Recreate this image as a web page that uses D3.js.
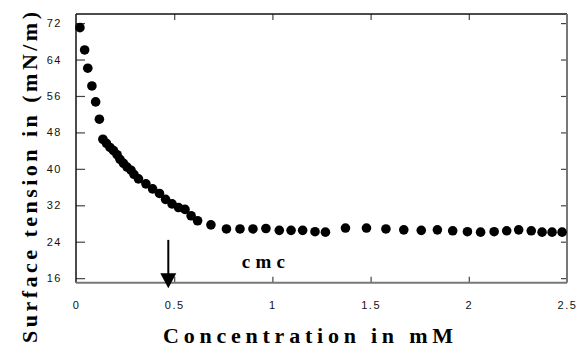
<!DOCTYPE html>
<html>
<head>
<meta charset="utf-8">
<script src="https://cdn.jsdelivr.net/npm/d3@7"></script>
<style>
  html, body { margin: 0; padding: 0; background: #fff; }
  svg { display: block; }
</style>
</head>
<body>
<svg id="chart" width="577" height="347"></svg>
<script>
// ---- data ----
const concentration = [0.020, 0.044, 0.060, 0.081, 0.100, 0.119, 0.137, 0.155, 0.173, 0.191,
  0.209, 0.224, 0.242, 0.260, 0.280, 0.295, 0.318, 0.356, 0.390, 0.425,
  0.456, 0.489, 0.522, 0.555, 0.586, 0.619, 0.687, 0.766, 0.835, 0.901,
  0.967, 1.035, 1.095, 1.154, 1.217, 1.270, 1.372, 1.479, 1.578, 1.669,
  1.758, 1.840, 1.918, 1.993, 2.060, 2.129, 2.193, 2.254, 2.318, 2.373,
  2.424, 2.475];
const tension = [71.0, 66.1, 62.1, 58.2, 54.7, 50.9, 46.5, 45.6, 44.7, 44.0,
  43.1, 42.1, 41.2, 40.4, 39.7, 38.8, 37.8, 36.7, 35.6, 34.6,
  33.3, 32.3, 31.5, 31.1, 29.7, 28.6, 27.7, 26.8, 26.8, 26.8,
  26.9, 26.5, 26.5, 26.5, 26.2, 26.1, 27.0, 27.0, 26.8, 26.6,
  26.5, 26.6, 26.4, 26.2, 26.1, 26.2, 26.4, 26.6, 26.4, 26.1,
  26.1, 26.1];
const xTickValues = [0, 0.5, 1, 1.5, 2, 2.5];
const xTickLabels = ["0", "0.5", "1", "1.5", "2", "2.5"];
const yTickValues = [16, 24, 32, 40, 48, 56, 64, 72];
const yTickLabels = ["16", "24", "32", "40", "48", "56", "64", "72"];
const xTitle = "Concentration in mM";
const yTitle = "Surface tension in (mN/m)";
const cmcLabel = "cmc";
const cmcArrow = { x: 0.47, top: 24.4, headTop: 17.1, tip: 13.8 };
const cmcText = { x: 0.954, y: 18.2 };

// ---- layout ----
const svg = d3.select("#chart");
const W = 577, H = 347;
const mL = 76, mR = 567, mT = 14, mB = 282.7;

svg.append("rect").attr("width", W).attr("height", H).attr("fill", "#fff");

const x = d3.scaleLinear().domain([0, 2.5]).range([mL, mR]);
const y = d3.scaleLinear().domain([15, 74]).range([mB, mT]);

const tickFont = "'Liberation Sans', Arial, sans-serif";

// left axis
const gL = svg.append("g").attr("transform", `translate(${mL},0)`)
  .call(d3.axisLeft(y).tickValues(yTickValues)
    .tickFormat((d, i) => yTickLabels[i])
    .tickSizeInner(-9).tickSizeOuter(0).tickPadding(14));
// bottom axis
const gB = svg.append("g").attr("transform", `translate(0,${mB})`)
  .call(d3.axisBottom(x).tickValues(xTickValues)
    .tickFormat((d, i) => xTickLabels[i])
    .tickSizeInner(-6).tickSizeOuter(0).tickPadding(19));
// top axis
const gT = svg.append("g").attr("transform", `translate(0,${mT})`)
  .call(d3.axisTop(x).tickValues(xTickValues.slice(1, -1))
    .tickFormat("").tickSizeInner(-6).tickSizeOuter(0));
// right axis
const gR = svg.append("g").attr("transform", `translate(${mR},0)`)
  .call(d3.axisRight(y).tickValues(yTickValues)
    .tickFormat("").tickSizeInner(-6).tickSizeOuter(0));

[gL, gB, gT, gR].forEach(g => {
  g.select(".domain").remove();
  g.selectAll(".tick line").attr("stroke", "#444").attr("stroke-width", 1.2);
  g.selectAll(".tick text")
    .attr("fill", "#111")
    .style("font-family", tickFont)
    .style("font-size", "11px")
    .style("letter-spacing", "1.5px");
});
gB.selectAll(".tick").filter(d => d === 0 || d === 2.5).select("line").remove();

// frame
svg.append("line").attr("x1", mL).attr("x2", mR).attr("y1", mT).attr("y2", mT)
  .attr("stroke", "#111").attr("stroke-width", 1.5);
svg.append("line").attr("x1", mL).attr("x2", mL).attr("y1", mT).attr("y2", mB)
  .attr("stroke", "#111").attr("stroke-width", 1.5);
svg.append("line").attr("x1", mL).attr("x2", mR).attr("y1", mB).attr("y2", mB)
  .attr("stroke", "#777").attr("stroke-width", 2);
svg.append("line").attr("x1", mR).attr("x2", mR).attr("y1", mT).attr("y2", mB)
  .attr("stroke", "#777").attr("stroke-width", 2);

// points
svg.append("g").selectAll("circle")
  .data(concentration.map((c, i) => ({ c, t: tension[i] })))
  .join("circle")
  .attr("cx", d => x(d.c))
  .attr("cy", d => y(d.t))
  .attr("r", 4.8)
  .attr("fill", "#000");

// cmc arrow
const ax = x(cmcArrow.x);
svg.append("line")
  .attr("x1", ax).attr("x2", ax)
  .attr("y1", y(cmcArrow.top)).attr("y2", y(cmcArrow.headTop) + 1)
  .attr("stroke", "#000").attr("stroke-width", 2);
svg.append("path")
  .attr("d", `M${ax - 8},${y(cmcArrow.headTop)} L${ax + 8},${y(cmcArrow.headTop)} L${ax},${y(cmcArrow.tip)} Z`)
  .attr("fill", "#000");

// cmc text
svg.append("text")
  .attr("x", x(cmcText.x)).attr("y", y(cmcText.y))
  .attr("text-anchor", "middle")
  .attr("textLength", 43).attr("lengthAdjust", "spacing")
  .style("font-family", "'Liberation Serif', 'Times New Roman', serif")
  .style("font-weight", "bold").style("font-size", "19px")
  .text(cmcLabel);

// axis titles
svg.append("text")
  .attr("x", 308).attr("y", 343)
  .attr("text-anchor", "middle")
  .attr("textLength", 290).attr("lengthAdjust", "spacing")
  .style("font-family", "'Liberation Serif', 'Times New Roman', serif")
  .style("font-weight", "bold").style("font-size", "22px")
  .text(xTitle);

svg.append("text")
  .attr("transform", "translate(37,177.5) rotate(-90)")
  .attr("text-anchor", "middle")
  .attr("textLength", 331).attr("lengthAdjust", "spacing")
  .style("font-family", "'Liberation Serif', 'Times New Roman', serif")
  .style("font-weight", "bold").style("font-size", "22px")
  .text(yTitle);
</script>
</body>
</html>
